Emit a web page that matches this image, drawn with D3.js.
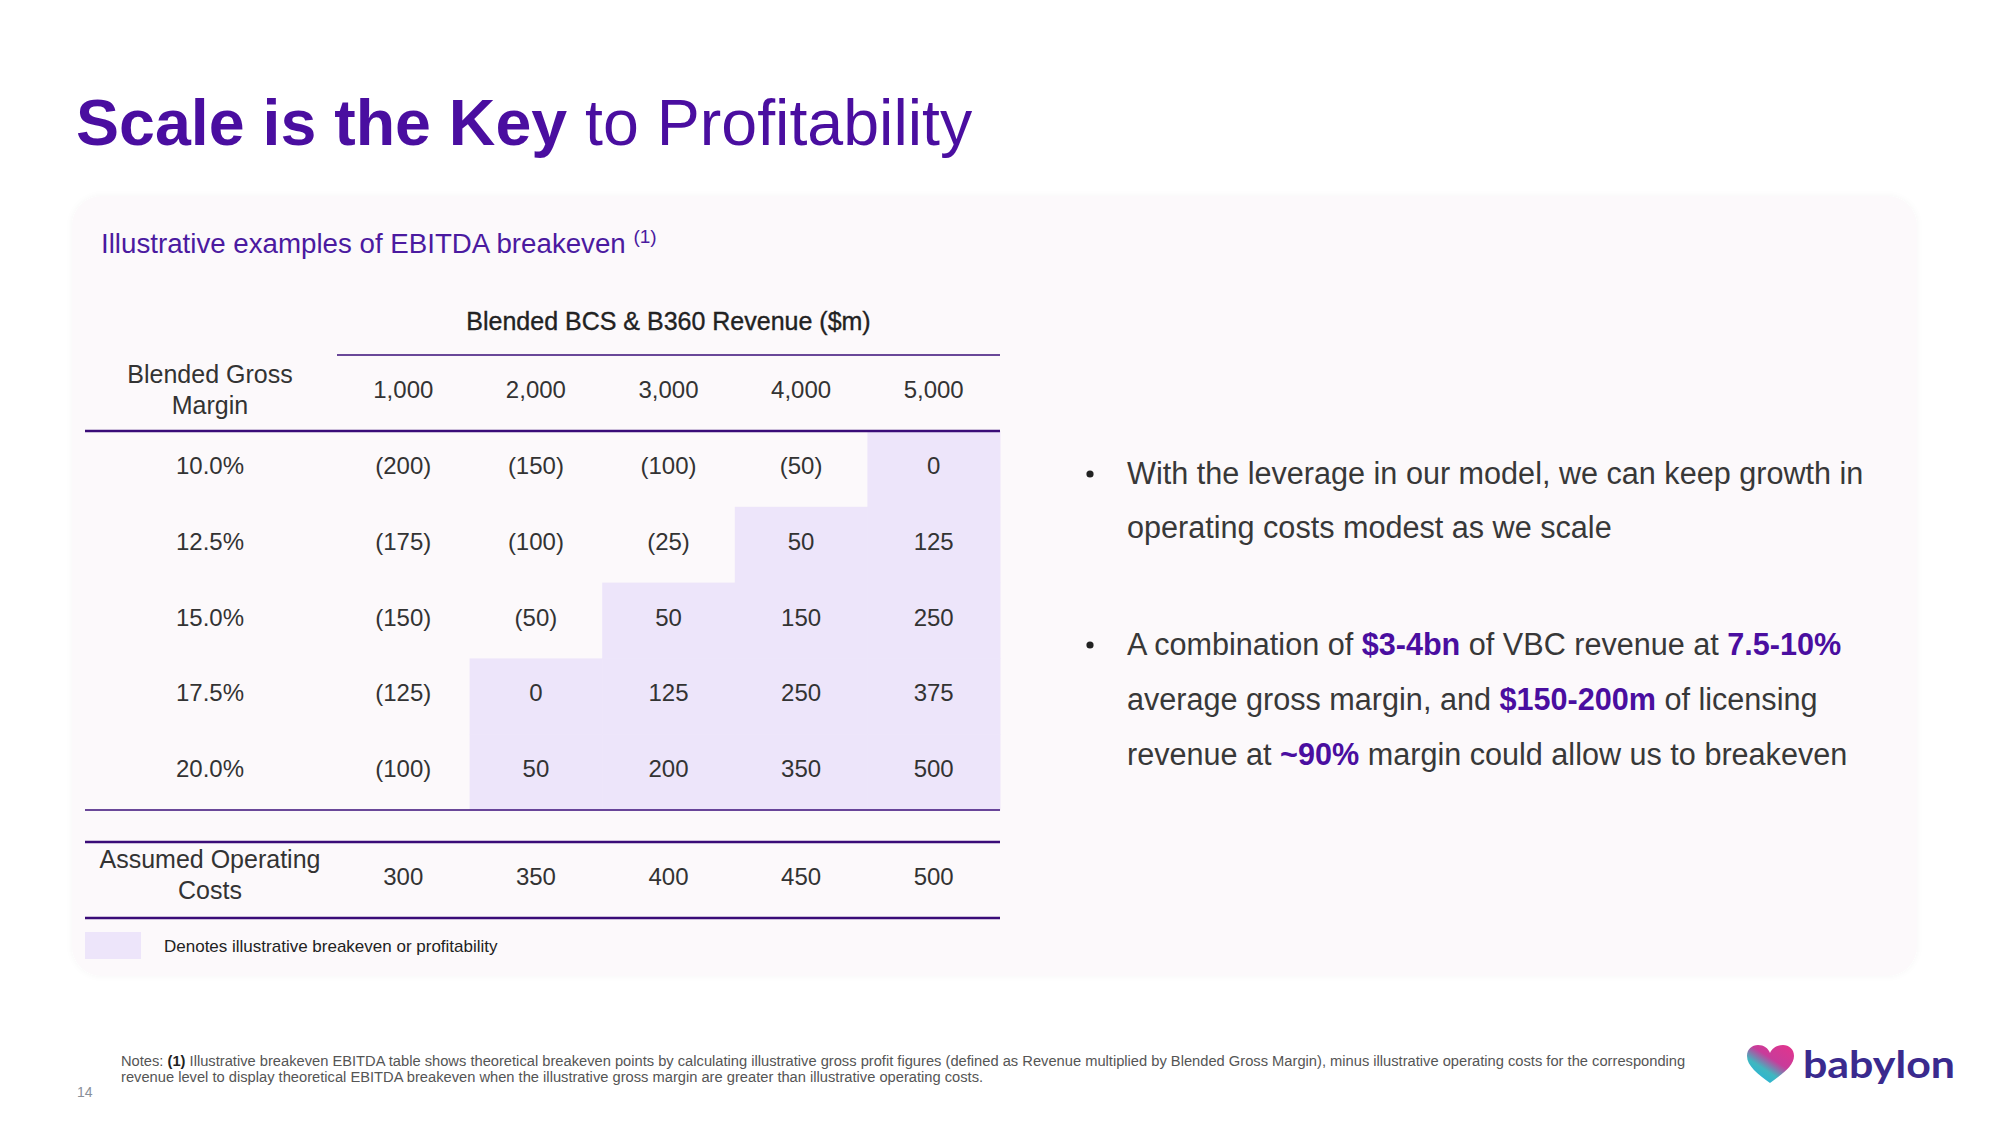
<!DOCTYPE html>
<html><head><meta charset="utf-8">
<script src="https://cdn.jsdelivr.net/npm/d3@7"></script>
<style>
html,body{margin:0;padding:0;background:#fff;}
svg{display:block;font-family:"Liberation Sans",Arial,Helvetica,sans-serif;}
</style></head>
<body>
<script>
// ---- data ----
const revenueLabels = ["1,000","2,000","3,000","4,000","5,000"];
const marginLabels = ["10.0%","12.5%","15.0%","17.5%","20.0%"];
const ebitda10 = [-200,-150,-100,-50,0];
const ebitda125 = [-175,-100,-25,50,125];
const ebitda15 = [-150,-50,50,150,250];
const ebitda175 = [-125,0,125,250,375];
const ebitda20 = [-100,50,200,350,500];
const operatingCosts = [300,350,400,450,500];
const matrix = [ebitda10, ebitda125, ebitda15, ebitda175, ebitda20];

const W = 2000, H = 1125;
const purple = "#4a0ea0", lineCol = "#3a0c78", txt = "#333333", hiFill = "#ede5fa";

const svg = d3.select("body").append("svg").attr("width", W).attr("height", H);

// gradient for logo
const defs = svg.append("defs");
const lg = defs.append("linearGradient").attr("id","heartGrad").attr("x1","1").attr("y1","0").attr("x2","0.2").attr("y2","1");
lg.append("stop").attr("offset","0").attr("stop-color","#e4338c");
lg.append("stop").attr("offset","0.45").attr("stop-color","#c83c9a");
lg.append("stop").attr("offset","0.7").attr("stop-color","#3fb7c0");
lg.append("stop").attr("offset","1").attr("stop-color","#22b4dc");
const f = defs.append("filter").attr("id","shadow").attr("x","-5%").attr("y","-5%").attr("width","110%").attr("height","110%");
f.append("feDropShadow").attr("dx",0).attr("dy",0).attr("stdDeviation",3).attr("flood-color","#000").attr("flood-opacity",0.04);

// Title
const title = svg.append("text").attr("x", 76).attr("y", 145).attr("font-size", 64.5).attr("fill", purple);
title.append("tspan").attr("font-weight", 700).text("Scale is the Key");
title.append("tspan").attr("font-weight", 400).text(" to Profitability");

// panel
svg.append("rect").attr("x", 72).attr("y", 196).attr("width", 1845).attr("height", 780)
  .attr("rx", 30).attr("fill", "#fcf9fb").attr("filter","url(#shadow)");

// subtitle
const sub = svg.append("text").attr("x", 101).attr("y", 253).attr("font-size", 27.7).attr("fill", "#4b1aa0");
sub.append("tspan").text("Illustrative examples of EBITDA breakeven ");
sub.append("tspan").attr("font-size", 19).attr("dy", -10).text("(1)");

// scales
const x = d3.scaleBand().domain(revenueLabels).range([337, 1000]).padding(0);
const y = d3.scaleBand().domain(marginLabels).range([431, 810]).padding(0);
const labelX = 210;
const fmt = v => v < 0 ? "(" + Math.abs(v) + ")" : d3.format(",")(v);

// highlight cells
const cells = [];
matrix.forEach((row, i) => row.forEach((v, j) => cells.push({m: marginLabels[i], r: revenueLabels[j], v})));
svg.append("g").selectAll("rect").data(cells.filter(c => c.v >= 0)).join("rect")
  .attr("x", d => x(d.r)).attr("y", d => y(d.m))
  .attr("width", x.bandwidth() + 0.5).attr("height", y.bandwidth() + 0.5)
  .attr("fill", hiFill);

// header
svg.append("text").attr("x", (337 + 1000) / 2).attr("y", 330).attr("text-anchor", "middle")
  .attr("font-size", 25).attr("fill", "#222").attr("stroke", "#222").attr("stroke-width", 0.35)
  .text("Blended BCS & B360 Revenue ($m)");
svg.append("line").attr("x1", 337).attr("x2", 1000).attr("y1", 355).attr("y2", 355)
  .attr("stroke", lineCol).attr("stroke-width", 1.5);

svg.append("g").selectAll("text").data(revenueLabels).join("text")
  .attr("x", d => x(d) + x.bandwidth() / 2).attr("y", 398).attr("text-anchor", "middle")
  .attr("font-size", 24).attr("fill", txt).text(d => d);

const hl = svg.append("text").attr("text-anchor", "middle").attr("font-size", 25).attr("fill", txt);
hl.append("tspan").attr("x", labelX).attr("y", 383).text("Blended Gross");
hl.append("tspan").attr("x", labelX).attr("y", 414).text("Margin");

svg.append("line").attr("x1", 85).attr("x2", 1000).attr("y1", 431).attr("y2", 431)
  .attr("stroke", lineCol).attr("stroke-width", 2.5);

// row labels
svg.append("g").selectAll("text").data(marginLabels).join("text")
  .attr("x", labelX).attr("y", d => y(d) + y.bandwidth() / 2 + 5)
  .attr("text-anchor", "middle").attr("font-size", 24).attr("fill", txt).text(d => d);

// cell values
svg.append("g").selectAll("text").data(cells).join("text")
  .attr("x", d => x(d.r) + x.bandwidth() / 2).attr("y", d => y(d.m) + y.bandwidth() / 2 + 5)
  .attr("text-anchor", "middle").attr("font-size", 24).attr("fill", txt).text(d => fmt(d.v));

svg.append("line").attr("x1", 85).attr("x2", 1000).attr("y1", 810).attr("y2", 810)
  .attr("stroke", lineCol).attr("stroke-width", 1.5);

// operating costs row
svg.append("line").attr("x1", 85).attr("x2", 1000).attr("y1", 842).attr("y2", 842)
  .attr("stroke", lineCol).attr("stroke-width", 2.5);
const ol = svg.append("text").attr("text-anchor", "middle").attr("font-size", 25).attr("fill", txt);
ol.append("tspan").attr("x", labelX).attr("y", 868).text("Assumed Operating");
ol.append("tspan").attr("x", labelX).attr("y", 899).text("Costs");
svg.append("g").selectAll("text").data(operatingCosts).join("text")
  .attr("x", (d, i) => x(revenueLabels[i]) + x.bandwidth() / 2).attr("y", 885)
  .attr("text-anchor", "middle").attr("font-size", 24).attr("fill", txt).text(d => d3.format(",")(d));
svg.append("line").attr("x1", 85).attr("x2", 1000).attr("y1", 918).attr("y2", 918)
  .attr("stroke", lineCol).attr("stroke-width", 2.5);

// legend
svg.append("rect").attr("x", 85).attr("y", 932).attr("width", 56).attr("height", 27).attr("fill", hiFill);
svg.append("text").attr("x", 164).attr("y", 952).attr("font-size", 17).attr("fill", "#222")
  .text("Denotes illustrative breakeven or profitability");

// bullets
const bullets = [
  [[["With the leverage in our model, we can keep growth in", false]], [["operating costs modest as we scale", false]]],
  [[["A combination of ", false], ["$3-4bn", true], [" of VBC revenue at ", false], ["7.5-10%", true]],
   [["average gross margin, and ", false], ["$150-200m", true], [" of licensing", false]],
   [["revenue at ", false], ["~90%", true], [" margin could allow us to breakeven", false]]]
];
const bulletY = [[484, 538], [655, 710, 765]];
bullets.forEach((b, bi) => {
  svg.append("circle").attr("cx", 1090).attr("cy", bulletY[bi][0] - 10).attr("r", 3.6).attr("fill", "#222");
  b.forEach((line, li) => {
    const t = svg.append("text").attr("x", 1127).attr("y", bulletY[bi][li]).attr("font-size", 30.6).attr("fill", "#383838");
    line.forEach(([s, bold]) => {
      t.append("tspan").attr("font-weight", bold ? 700 : 400).attr("fill", bold ? purple : "#383838").text(s);
    });
  });
});

// notes
const n1 = svg.append("text").attr("x", 121).attr("y", 1066).attr("font-size", 14.7).attr("fill", "#555");
n1.append("tspan").text("Notes: ");
n1.append("tspan").attr("font-weight", 700).attr("fill", "#222").text("(1)");
n1.append("tspan").text(" Illustrative breakeven EBITDA table shows theoretical breakeven points by calculating illustrative gross profit figures (defined as Revenue multiplied by Blended Gross Margin), minus illustrative operating costs for the corresponding");
svg.append("text").attr("x", 121).attr("y", 1082).attr("font-size", 14.7).attr("fill", "#555")
  .text("revenue level to display theoretical EBITDA breakeven when the illustrative gross margin are greater than illustrative operating costs.");
svg.append("text").attr("x", 77).attr("y", 1097).attr("font-size", 14).attr("fill", "#8a9099").text("14");

// logo
svg.append("path")
  .attr("d", "M1770,1083 C1758,1074 1747,1066 1747,1056 C1747,1049 1752,1045 1758,1045 C1764,1045 1768,1048 1770,1053 C1772,1048 1777,1045 1783,1045 C1789,1045 1794,1049 1794,1056 C1794,1066 1782,1074 1770,1083 Z")
  .attr("fill", "url(#heartGrad)");
svg.append("text").attr("x", 1803).attr("y", 1078).attr("font-family", "Lato, 'Open Sans', sans-serif")
  .attr("font-weight", 700).attr("font-size", 38).attr("fill", "#3a2a8e")
  .attr("textLength", 152).attr("lengthAdjust", "spacingAndGlyphs").text("babylon");
</script>
</body></html>
